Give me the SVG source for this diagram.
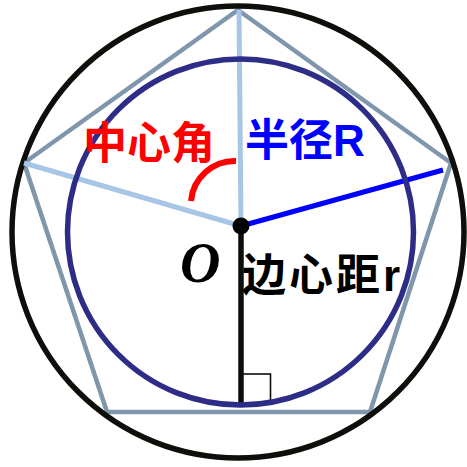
<svg xmlns="http://www.w3.org/2000/svg" width="467" height="467" viewBox="0 0 467 467">
<style>
.cjk{font-family:"Noto Sans CJK SC","Noto Sans",sans-serif;font-weight:700}
.ln{fill:none;stroke-linecap:butt}
</style>
<rect width="467" height="467" fill="#ffffff"/>
<g id="pentagon">
<polygon points="238,10 451,163 370,412 107,412 24,163" fill="none" stroke="#7f96ad" stroke-width="4.5" stroke-linejoin="miter"/>
</g>
<g id="outer-circle">
<circle cx="238" cy="232" r="226" fill="none" stroke="#0e0e0a" stroke-width="5.5"/>
</g>
<g id="connectors">
<line class="ln" x1="241" y1="226" x2="239" y2="10" stroke="#a7c6e6" stroke-width="5"/>
<line class="ln" x1="241" y1="226" x2="24" y2="163" stroke="#a7c6e6" stroke-width="5"/>
<line class="ln" x1="241" y1="226" x2="443" y2="170" stroke="#0000ff" stroke-width="5"/>
<line class="ln" x1="241" y1="226" x2="241" y2="404" stroke="#0e0e0a" stroke-width="5.5"/>
<rect x="241" y="374" width="29.5" height="29" fill="none" stroke="#0e0e0a" stroke-width="1.6"/>
<path class="ln" d="M 236,161 A 44 44 0 0 0 191,201" stroke="#ff0000" stroke-width="6"/>
</g>
<g id="inner-circle">
<circle cx="240.5" cy="232" r="173" fill="none" stroke="#2d2d88" stroke-width="5.5"/>
</g>
<g id="center">
<circle cx="241" cy="226" r="8.5" fill="#000000"/>
<text x="180" y="282" font-family="Liberation Serif, serif" font-style="italic" font-weight="700" font-size="56" fill="#000000">O</text>
</g>
<g id="label-angle">
<text class="cjk" x="83" y="159" font-size="44" fill="#ff0000">中心角</text>
</g>
<g id="label-radius">
<text class="cjk" x="245" y="156" font-size="44" fill="#0000ff">半径<tspan font-family="Liberation Sans, sans-serif" font-weight="700">R</tspan></text>
</g>
<g id="label-apothem">
<text class="cjk" x="242" y="291" font-size="44" fill="#000000" letter-spacing="3">边心距<tspan font-family="Liberation Sans, sans-serif" font-weight="700" letter-spacing="0">r</tspan></text>
</g>
</svg>
